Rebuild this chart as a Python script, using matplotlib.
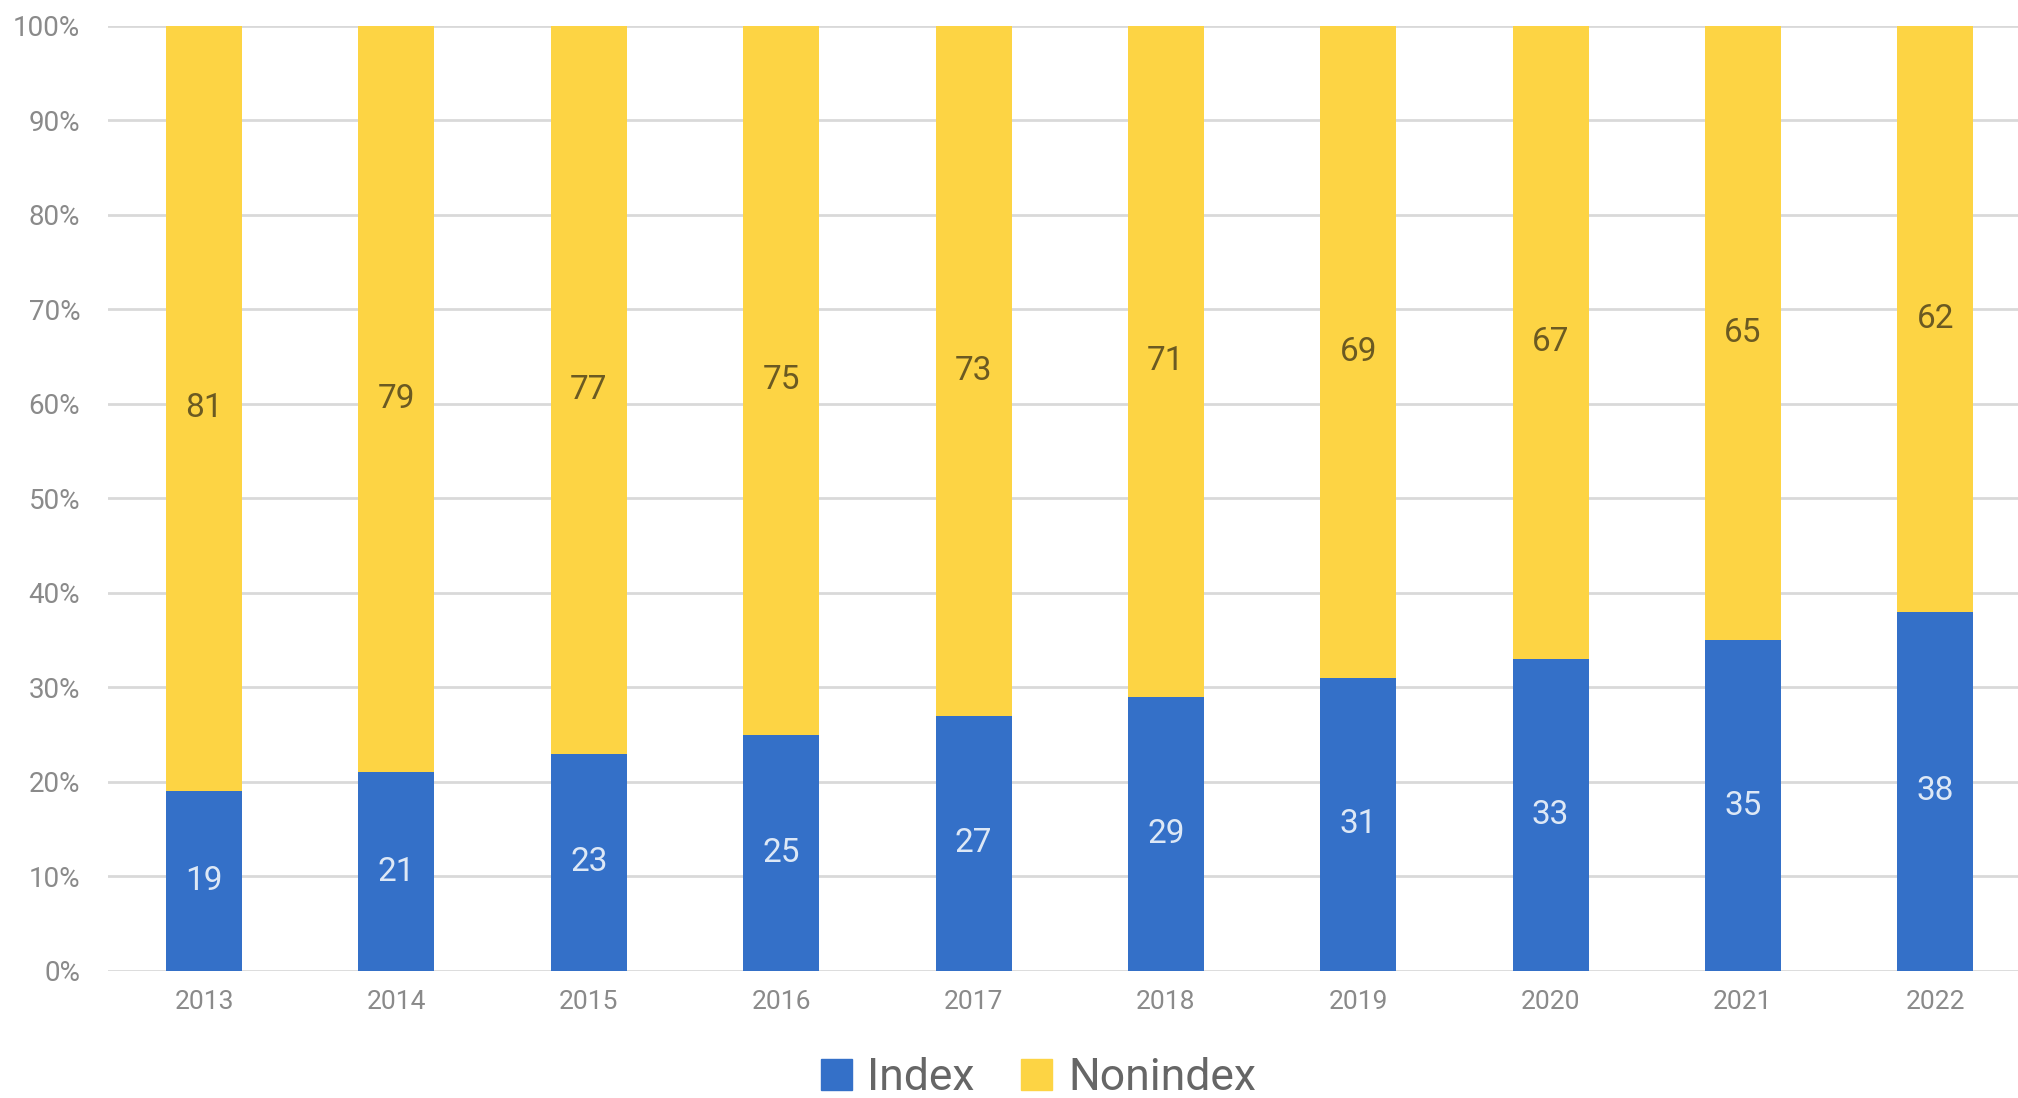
import matplotlib
matplotlib.use('Agg')
import matplotlib.pyplot as plt
from matplotlib.patches import Patch
import numpy as np

plt.rcParams['font.family'] = ['Roboto', 'DejaVu Sans']

years = ['2013', '2014', '2015', '2016', '2017', '2018', '2019', '2020', '2021', '2022']
index_share = [19, 21, 23, 25, 27, 29, 31, 33, 35, 38]
nonindex_share = [81, 79, 77, 75, 73, 71, 69, 67, 65, 62]
yticks = [0, 10, 20, 30, 40, 50, 60, 70, 80, 90, 100]

blue = '#3470c8'
yellow = '#fdd444'

fig = plt.figure(figsize=(20.18, 10.98), dpi=100)
ax = fig.add_axes([0.0535, 0.1157, 0.9465, 0.861])

x = np.arange(len(years))
w = 0.395
ax.bar(x, index_share, width=w, color=blue, zorder=3)
ax.bar(x, nonindex_share, width=w, bottom=index_share, color=yellow, zorder=3)

# value labels in the middle of each segment
for xi, iv, nv in zip(x, index_share, nonindex_share):
    ax.text(xi, iv / 2, str(iv), ha='center', va='center', fontsize=24,
            color='#dde8f6', zorder=4)
    ax.text(xi, iv + nv / 2, str(nv), ha='center', va='center', fontsize=24,
            color='#6b5a22', zorder=4)

ax.set_xlim(-0.5, 9.43)
ax.set_ylim(0, 100)
ax.set_yticks(yticks)
ax.set_yticklabels([f'{t}%' for t in yticks])
ax.set_xticks(x)
ax.set_xticklabels(years)
ax.tick_params(axis='both', length=0, labelcolor='#8a8a8a')
ax.tick_params(axis='y', pad=20, labelsize=20)
ax.tick_params(axis='x', pad=14, labelsize=19)
ax.yaxis.grid(True, color='#d9d9d9', linewidth=2, zorder=0)
for s in ax.spines.values():
    s.set_visible(False)

handles = [Patch(color=blue, label='Index'), Patch(color=yellow, label='Nonindex')]
fig.legend(handles=handles, loc='center', bbox_to_anchor=(0.5145, 0.018), ncol=2,
           frameon=False, fontsize=32, handlelength=0.7, handleheight=0.7,
           handletextpad=0.35, columnspacing=1.05, labelcolor='#666666')

fig.savefig('out.png', dpi=100)
